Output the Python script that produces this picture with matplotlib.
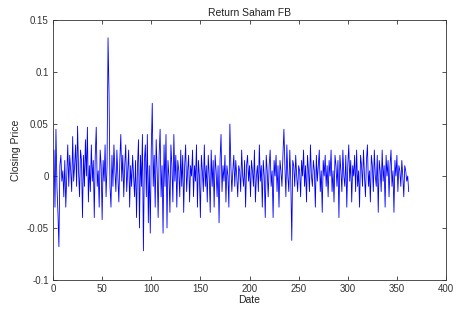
import numpy as np
import matplotlib
matplotlib.use("Agg")
import matplotlib.pyplot as plt

returns = [
    0.025, -0.030, 0.045, -0.010, -0.035, -0.068, 0.010, 0.020, -0.005, 0.005,
    -0.020, 0.015, -0.030, 0.000, 0.030, -0.010, 0.020, 0.005, -0.015, 0.038,
    -0.005, 0.010, 0.030, -0.010, 0.048, 0.005, -0.020, 0.025, 0.015, -0.040,
    0.020, -0.010, 0.035, 0.000, 0.047, -0.025, 0.010, -0.015, 0.030, -0.005,
    0.015, -0.040, 0.020, 0.047, -0.010, 0.005, -0.030, 0.025, 0.010, -0.042,
    0.015, -0.005, 0.030, -0.020, 0.010, 0.133, 0.080, -0.010, -0.030, 0.020,
    -0.010, 0.030, 0.005, -0.015, 0.025, 0.000, -0.025, 0.015, 0.040, -0.005,
    0.020, -0.020, 0.010, 0.030, -0.015, 0.005, 0.025, -0.030, 0.010, -0.010,
    0.020, 0.000, -0.020, 0.015, -0.040, 0.010, 0.035, -0.050, 0.020, -0.010,
    0.040, -0.072, 0.015, 0.030, -0.020, 0.040, -0.045, 0.010, -0.055, 0.025,
    0.070, -0.010, 0.020, -0.030, 0.035, 0.005, -0.040, 0.020, 0.045, -0.020,
    0.010, -0.055, 0.030, -0.010, 0.040, -0.050, 0.015, 0.000, -0.035, 0.030,
    0.010, -0.025, 0.040, -0.005, 0.020, -0.030, 0.015, 0.005, -0.020, 0.025,
    -0.010, 0.020, -0.035, 0.010, 0.030, -0.015, 0.005, 0.020, -0.025, 0.010,
    0.000, 0.025, -0.020, 0.010, -0.005, 0.030, -0.030, 0.015, 0.000, -0.040,
    0.020, 0.005, -0.015, 0.030, -0.010, 0.010, -0.025, 0.020, 0.000, -0.035,
    0.025, -0.010, 0.015, -0.030, 0.020, 0.005, -0.020, 0.010, -0.045, 0.015,
    0.040, -0.015, 0.010, -0.005, 0.020, -0.025, 0.010, 0.000, -0.030, 0.050,
    0.010, -0.015, 0.005, 0.020, -0.010, 0.015, 0.000, -0.020, 0.010, 0.005,
    -0.015, 0.025, 0.000, -0.010, 0.015, -0.030, 0.010, 0.020, -0.005, 0.010,
    -0.020, 0.015, 0.005, -0.010, 0.025, -0.025, 0.000, 0.010, -0.015, 0.030,
    -0.005, 0.010, -0.030, 0.015, 0.000, -0.040, 0.020, 0.005, -0.020, 0.010,
    0.025, -0.010, 0.005, -0.040, 0.015, 0.000, 0.020, -0.015, 0.010, -0.030,
    0.015, 0.005, -0.010, 0.020, 0.045, 0.010, -0.020, 0.030, 0.000, -0.015,
    0.025, -0.005, -0.062, 0.015, 0.010, -0.010, 0.020, 0.000, -0.015, 0.010,
    0.005, -0.020, 0.015, 0.000, 0.025, -0.010, 0.010, -0.025, 0.020, 0.005,
    -0.015, 0.030, 0.000, -0.010, 0.015, 0.005, -0.030, 0.020, -0.005, 0.010,
    0.025, -0.015, 0.005, -0.035, 0.015, 0.000, 0.020, -0.010, 0.010, -0.020,
    0.015, 0.000, 0.025, -0.015, 0.005, -0.025, 0.020, 0.010, -0.010, 0.015,
    -0.040, 0.020, 0.005, -0.015, 0.025, 0.000, -0.010, 0.020, -0.030, 0.010,
    0.030, -0.005, 0.015, -0.025, 0.010, 0.000, 0.020, -0.015, 0.025, -0.010,
    0.005, -0.030, 0.020, 0.010, -0.010, 0.025, 0.000, -0.020, 0.015, 0.030,
    -0.010, 0.005, -0.025, 0.020, 0.010, -0.015, 0.025, 0.000, -0.010, 0.020,
    -0.035, 0.015, 0.005, -0.015, 0.025, -0.005, 0.010, -0.030, 0.020, 0.000,
    0.015, -0.020, 0.010, 0.025, -0.010, 0.005, -0.035, 0.015, 0.000, 0.020,
    -0.015, 0.010, 0.005, -0.010, 0.015, 0.000, -0.020, 0.010, 0.005, -0.005,
    0.000, -0.015,
]
days = np.arange(1, len(returns) + 1)

x_ticks = [0, 50, 100, 150, 200, 250, 300, 350, 400]
y_ticks = [-0.1, -0.05, 0, 0.05, 0.1, 0.15]
y_tick_labels = ["-0.1", "-0.05", "0", "0.05", "0.1", "0.15"]

plt.rcParams['font.family'] = ['Liberation Sans', 'DejaVu Sans']

fig = plt.figure(figsize=(4.57, 3.10), dpi=100)
ax = fig.add_axes([0.116, 0.097, 0.860, 0.838])
ax.plot(days, returns, color=(0, 0, 1), linewidth=0.6)
ax.set_xlim(0, 400)
ax.set_ylim(-0.1, 0.15)
ax.set_xticks(x_ticks)
ax.set_xticklabels([str(t) for t in x_ticks])
ax.set_yticks(y_ticks)
ax.set_yticklabels(y_tick_labels)
ax.tick_params(direction='in', top=True, right=True, labelsize=7,
               length=3, width=0.6, colors='#333333', labelcolor='#333333', pad=3)
for s in ax.spines.values():
    s.set_linewidth(0.6)
    s.set_color('#333333')
ax.set_title("Return Saham FB", fontsize=7.5, color='#222222', pad=3)
ax.set_xlabel("Date", fontsize=7.5, color='#222222', labelpad=1)
ax.set_ylabel("Closing Price", fontsize=7.5, color='#222222', labelpad=4)
fig.savefig("out.png", dpi=100)
